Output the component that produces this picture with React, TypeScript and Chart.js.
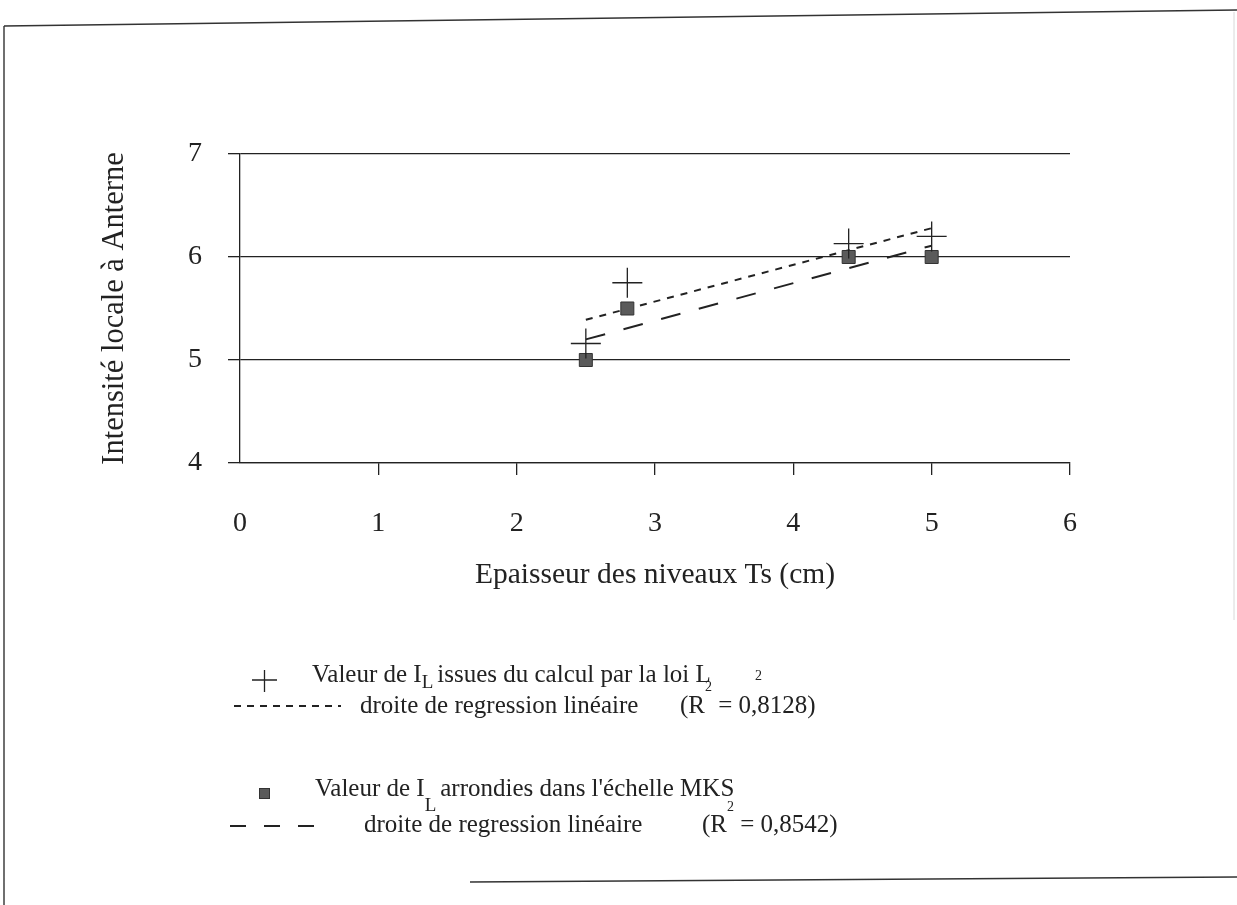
import React, { useEffect, useRef } from "react";
import { Chart, registerables } from "chart.js";

Chart.register(...registerables);

// ---- Data ----
const xCalc = [2.5, 2.8, 4.4, 5.0];
const yCalc = [5.16, 5.75, 6.13, 6.2];
const xMks = [2.5, 2.8, 4.4, 5.0];
const yMks = [5.0, 5.5, 6.0, 6.0];
const xRegCalc = [2.5, 5.0];
const yRegCalc = [5.39, 6.28];
const xRegMks = [2.5, 5.0];
const yRegMks = [5.2, 6.11];
const xTickValues = [0, 1, 2, 3, 4, 5, 6];
const yTickValues = [4, 5, 6, 7];

const xTitle = "Epaisseur des niveaux Ts (cm)";
const yTitle = "Intensité locale à Anterne";
const legendCalc = ["Valeur de I", "L", "issues du calcul par la loi L", "2"];
const legendReg = ["droite de regression linéaire", "(R", "2", " = 0,8128)", " = 0,8542)"];
const legendMks = ["Valeur de I", "L", "arrondies dans l'échelle MKS"];

const SERIF = "'Liberation Serif', 'Times New Roman', serif";
const INK = "#222";

const pts = (xs: number[], ys: number[]) => xs.map((x, i) => ({ x, y: ys[i] }));

const W = 1237;
const H = 905;

const framePlugin = {
  id: "frame",
  afterDraw(chart: any) {
    const ctx = chart.ctx as CanvasRenderingContext2D;
    ctx.save();
    ctx.strokeStyle = "#333";
    ctx.lineWidth = 1.4;
    ctx.beginPath();
    ctx.moveTo(4, 26);
    ctx.lineTo(W, 10);
    ctx.moveTo(4, 26);
    ctx.lineTo(4, H);
    ctx.moveTo(470, 882);
    ctx.lineTo(W, 877);
    ctx.stroke();
    ctx.strokeStyle = "#d8d8d8";
    ctx.lineWidth = 1;
    ctx.beginPath();
    ctx.moveTo(1234, 12);
    ctx.lineTo(1234, 620);
    ctx.stroke();
    ctx.restore();
  },
};

function txt(ctx: CanvasRenderingContext2D, s: string, x: number, y: number, size: number) {
  ctx.font = `${size}px ${SERIF}`;
  ctx.fillText(s, x, y);
  return x + ctx.measureText(s).width;
}

const legendPlugin = {
  id: "customLegend",
  afterDraw(chart: any) {
    const ctx = chart.ctx as CanvasRenderingContext2D;
    ctx.save();
    ctx.fillStyle = INK;
    ctx.strokeStyle = INK;
    ctx.textBaseline = "alphabetic";
    ctx.textAlign = "left";
    const F = 25;
    const FS = 19;
    const FSS = 14;

    // Row 1: cross + text
    ctx.lineWidth = 1.3;
    ctx.beginPath();
    ctx.moveTo(252, 680);
    ctx.lineTo(277, 680);
    ctx.moveTo(264.5, 670);
    ctx.lineTo(264.5, 692);
    ctx.stroke();
    let x = txt(ctx, legendCalc[0], 312, 682, F);
    x = txt(ctx, legendCalc[1], x, 688, FS);
    txt(ctx, legendCalc[2], x + 4, 682, F);
    txt(ctx, legendCalc[3], 755, 680, FSS);

    // Row 2: short dash line + text
    ctx.lineWidth = 2;
    ctx.setLineDash([7, 6]);
    ctx.beginPath();
    ctx.moveTo(234, 706);
    ctx.lineTo(341, 706);
    ctx.stroke();
    ctx.setLineDash([]);
    txt(ctx, legendReg[0], 360, 713, F);
    x = txt(ctx, legendReg[1], 680, 713, F);
    x = txt(ctx, legendReg[2], x, 691, FSS);
    txt(ctx, legendReg[3], x, 713, F);

    // Row 3: square + text
    ctx.fillStyle = "#5a5a5a";
    ctx.fillRect(259.5, 788.5, 10, 10);
    ctx.lineWidth = 1;
    ctx.strokeStyle = "#333";
    ctx.strokeRect(259.5, 788.5, 10, 10);
    ctx.fillStyle = INK;
    ctx.strokeStyle = INK;
    x = txt(ctx, legendMks[0], 315, 796, F);
    x = txt(ctx, legendMks[1], x, 811, FS);
    txt(ctx, legendMks[2], x + 4, 796, F);

    // Row 4: long dash line + text
    ctx.lineWidth = 2;
    ctx.setLineDash([16, 18]);
    ctx.beginPath();
    ctx.moveTo(230, 826);
    ctx.lineTo(315, 826);
    ctx.stroke();
    ctx.setLineDash([]);
    txt(ctx, legendReg[0], 364, 832, F);
    x = txt(ctx, legendReg[1], 702, 832, F);
    x = txt(ctx, legendReg[2], x, 811, FSS);
    txt(ctx, legendReg[4], x, 832, F);

    ctx.restore();
  },
};

export default function App() {
  const ref = useRef<HTMLCanvasElement | null>(null);

  useEffect(() => {
    document.body.style.margin = "0";
    document.body.style.background = "#fff";
    const canvas = ref.current;
    if (!canvas) return;
    const tickFont = { family: SERIF, size: 28 };
    const chart = new Chart(canvas, {
      type: "scatter",
      data: {
        datasets: [
          {
            label: "Valeur de IL issues du calcul par la loi L2",
            data: pts(xCalc, yCalc),
            pointStyle: "cross",
            pointRadius: 15,
            pointBorderWidth: 1.3,
            borderColor: INK,
            backgroundColor: INK,
            showLine: false,
          },
          {
            label: "Valeur de IL arrondies dans l'échelle MKS",
            data: pts(xMks, yMks),
            pointStyle: "rect",
            pointRadius: 9.2,
            pointBorderWidth: 1,
            borderColor: "#333",
            backgroundColor: "#5a5a5a",
            showLine: false,
          },
          {
            label: "droite de regression linéaire (R² = 0,8128)",
            data: pts(xRegCalc, yRegCalc),
            showLine: true,
            pointRadius: 0,
            borderColor: INK,
            borderWidth: 2,
            borderDash: [7, 7],
          },
          {
            label: "droite de regression linéaire (R² = 0,8542)",
            data: pts(xRegMks, yRegMks),
            showLine: true,
            pointRadius: 0,
            borderColor: INK,
            borderWidth: 2,
            borderDash: [20, 19],
          },
        ],
      },
      options: {
        responsive: false,
        animation: false,
        devicePixelRatio: 1,
        layout: { padding: { left: 0, top: 154, right: 167, bottom: H - 463 - 130 } },
        plugins: {
          legend: { display: false },
          tooltip: { enabled: false },
        },
        scales: {
          x: {
            type: "linear",
            min: xTickValues[0],
            max: xTickValues[xTickValues.length - 1],
            ticks: {
              stepSize: 1,
              padding: 32,
              font: tickFont,
              color: INK,
              callback: (v: any) => (xTickValues.includes(Number(v)) ? String(v) : ""),
            },
            grid: {
              drawOnChartArea: false,
              tickLength: 12,
              lineWidth: 1.3,
              color: (c: any) => (c.index === 0 ? "rgba(0,0,0,0)" : INK),
            },
            border: { display: true, color: INK, width: 1.3 },
            title: {
              display: true,
              text: xTitle,
              font: { family: SERIF, size: 29.5 },
              color: INK,
              padding: { top: 0, bottom: 0 },
            },
            afterFit: (s: any) => {
              s.height = 130;
            },
          },
          y: {
            type: "linear",
            min: yTickValues[0],
            max: yTickValues[yTickValues.length - 1],
            ticks: {
              stepSize: 1,
              padding: 26,
              font: tickFont,
              color: INK,
              callback: (v: any) => (yTickValues.includes(Number(v)) ? String(v) : ""),
            },
            grid: {
              tickLength: 12,
              lineWidth: 1.3,
              color: INK,
            },
            border: { display: true, color: INK, width: 1.3 },
            title: {
              display: true,
              text: yTitle,
              font: { family: SERIF, size: 30.5 },
              color: INK,
              padding: { top: 97, bottom: 0 },
            },
            afterFit: (s: any) => {
              s.width = 240;
            },
          },
        },
      },
      plugins: [framePlugin, legendPlugin],
    } as any);
    return () => chart.destroy();
  }, []);

  return (
    <div style={{ width: W, height: H, background: "#fff" }}>
      <canvas ref={ref} width={W} height={H} style={{ display: "block" }} />
    </div>
  );
}
